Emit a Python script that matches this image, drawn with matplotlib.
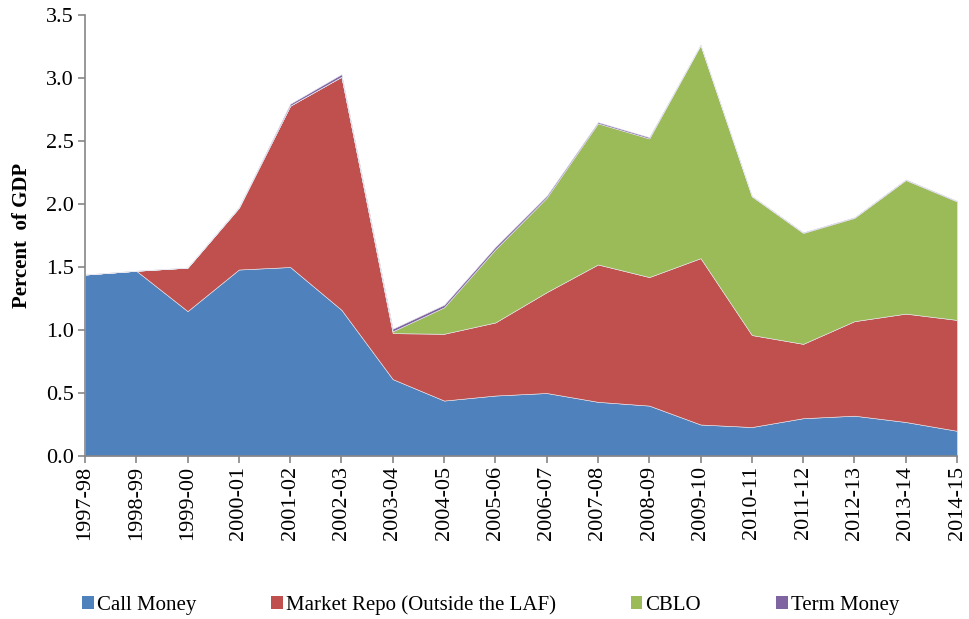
import numpy as np
import matplotlib.pyplot as plt
from matplotlib.patches import Patch

# Money market volumes as percent of GDP
years = ['1997-98', '1998-99', '1999-00', '2000-01', '2001-02', '2002-03',
         '2003-04', '2004-05', '2005-06', '2006-07', '2007-08', '2008-09',
         '2009-10', '2010-11', '2011-12', '2012-13', '2013-14', '2014-15']
call_money = [1.44, 1.47, 1.15, 1.48, 1.50, 1.16, 0.61, 0.44, 0.48, 0.50,
              0.43, 0.40, 0.25, 0.23, 0.30, 0.32, 0.27, 0.20]
market_repo = [0.00, 0.00, 0.345, 0.49, 1.28, 1.85, 0.365, 0.53, 0.58, 0.80,
               1.09, 1.02, 1.32, 0.73, 0.59, 0.75, 0.86, 0.88]
cblo = [0.00, 0.00, 0.00, 0.00, 0.00, 0.00, 0.015, 0.21, 0.58, 0.75,
        1.12, 1.10, 1.69, 1.10, 0.88, 0.82, 1.06, 0.94]
term_money = [0.00, 0.00, 0.00, 0.005, 0.015, 0.02, 0.02, 0.02, 0.02, 0.015,
              0.01, 0.01, 0.005, 0.005, 0.005, 0.005, 0.005, 0.005]

series_names = ['Call Money', 'Market Repo (Outside the LAF)', 'CBLO', 'Term Money']
colors = ['#4F81BD', '#C0504D', '#9BBB59', '#8064A2']

plt.rcParams['font.family'] = ['Liberation Serif', 'DejaVu Serif']

fig = plt.figure(figsize=(9.7, 6.19), dpi=100)
ax = fig.add_axes([0.0876, 0.2633, 0.8990, 0.7125])

x = np.arange(len(years))
ax.stackplot(x, call_money, market_repo, cblo, term_money,
             colors=colors, edgecolor='#e8e8f0', linewidth=0.4)

ax.set_xlim(0, len(years) - 1)
ax.set_ylim(0, 3.5)
ax.set_yticks(np.arange(0, 3.51, 0.5))
ax.set_yticklabels(['%.1f' % v for v in np.arange(0, 3.51, 0.5)], fontsize=16)
ax.set_xticks(x)
ax.set_xticklabels(years, rotation=90, fontsize=16)

for side in ['top', 'right']:
    ax.spines[side].set_visible(False)
for side in ['left', 'bottom']:
    ax.spines[side].set_color('#868686')
    ax.spines[side].set_linewidth(1.2)
ax.tick_params(axis='both', direction='out', length=5, color='#868686', width=1.2)
ax.tick_params(axis='x', pad=2)
ax.tick_params(axis='y', pad=3)

ax.set_ylabel('Percent  of GDP', fontsize=15, fontweight='bold', labelpad=10)

handles = [Patch(facecolor=c, edgecolor='none') for c in colors]
fig.legend(handles, series_names, loc='lower center', ncol=4, frameon=False,
           fontsize=15, bbox_to_anchor=(0.506, -0.024), handlelength=0.55,
           handleheight=0.55, handletextpad=0.15, columnspacing=3.6)

fig.savefig('out.png', dpi=100)
